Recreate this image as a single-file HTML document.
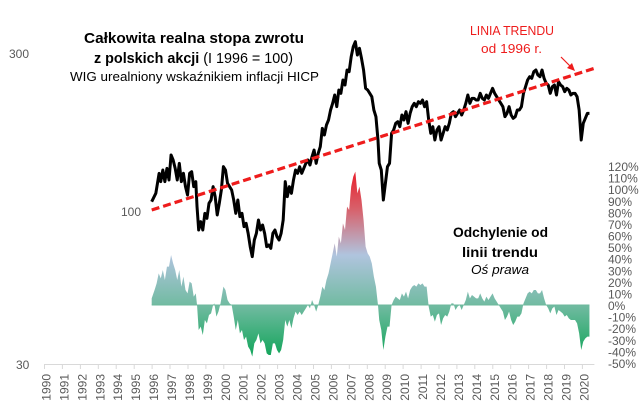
<!DOCTYPE html>
<html><head><meta charset="utf-8"><style>
html,body{margin:0;padding:0;background:#fff;}
svg{display:block;font-family:"Liberation Sans",sans-serif;}
</style></head><body>
<svg width="643" height="415" viewBox="0 0 643 415" xmlns="http://www.w3.org/2000/svg">
<defs>
<linearGradient id="g" gradientUnits="userSpaceOnUse" x1="0" y1="515" x2="0" y2="1070">
<stop offset="0" stop-color="#e8202c"/>
<stop offset="0.2" stop-color="#d8606a"/>
<stop offset="0.45" stop-color="#b0c4de"/>
<stop offset="0.72" stop-color="#72bba2"/>
<stop offset="1" stop-color="#12a55a"/>
</linearGradient>
</defs>
<g transform="scale(0.41220 0.33333)">
<polygon fill="url(#g)" points="368,915 368,895 375,870 380,850 385,820 390,835 395,810 400,840 405,800 410,800 415,765 420,790 425,810 430,840 435,810 440,860 445,830 450,870 455,880 460,845 465,850 470,890 475,880 478,915 482,990 487,980 492,1005 497,960 502,970 507,945 512,940 517,915 520,910 525,950 530,935 535,910 542,860 547,870 552,900 557,910 562,915 567,950 572,990 577,960 582,1000 587,990 592,1020 597,1010 602,1040 607,1050 612,1070 617,1030 622,1020 627,1000 632,1030 637,1020 642,1030 647,1060 652,1065 657,1065 662,1030 667,1030 672,1050 677,1060 682,1050 687,1020 692,960 697,980 702,960 707,985 712,955 717,935 722,945 727,935 732,945 737,935 742,925 747,915 752,925 757,900 762,915 767,935 772,915 777,890 782,860 787,870 792,840 797,820 802,790 807,760 812,730 817,770 822,710 827,730 832,670 837,690 842,620 847,630 852,560 857,530 862,515 867,580 872,560 877,600 882,660 887,740 892,760 897,770 902,790 907,830 912,860 917,915 920,960 925,990 930,1050 935,1010 940,980 945,980 950,915 955,900 960,890 965,895 970,900 975,880 980,890 985,875 990,895 995,870 1000,860 1005,855 1010,860 1015,850 1020,855 1025,850 1030,860 1035,860 1040,920 1045,950 1050,945 1055,965 1060,945 1065,940 1070,975 1075,955 1080,945 1085,950 1090,935 1095,910 1100,910 1105,930 1110,920 1115,915 1120,930 1125,915 1130,900 1135,875 1140,895 1145,885 1150,890 1155,895 1160,895 1165,880 1170,895 1175,905 1180,890 1185,900 1190,890 1195,880 1200,895 1205,905 1210,915 1215,925 1220,935 1225,960 1230,950 1235,935 1240,960 1245,975 1250,965 1255,950 1260,950 1265,940 1270,910 1275,895 1280,880 1285,875 1290,880 1295,870 1300,870 1305,880 1310,880 1315,870 1320,895 1325,915 1330,925 1335,940 1340,925 1345,920 1350,945 1355,930 1360,935 1365,940 1370,950 1375,945 1380,955 1385,960 1390,960 1395,960 1400,970 1405,1000 1410,1050 1415,1025 1420,1015 1425,1010 1430,1010 1430,915"/>
<line x1="368" y1="915" x2="1430" y2="915" stroke="#6db89c" stroke-width="1" vector-effect="non-scaling-stroke"/>
<polyline fill="none" stroke="#000" stroke-width="3" stroke-linejoin="round" vector-effect="non-scaling-stroke" points="368,605 378,580 382,550 386,520 390,545 395,510 400,545 405,505 410,540 415,465 420,480 425,505 430,540 435,490 440,545 445,520 450,560 455,585 460,520 465,515 470,560 475,545 478,620 482,690 487,665 492,690 497,640 502,655 507,610 512,600 517,560 522,590 527,645 532,610 537,570 542,500 547,510 552,550 557,560 562,570 567,600 572,640 577,600 582,650 587,640 592,680 597,670 602,700 607,740 612,770 617,720 622,700 627,660 632,690 637,675 642,700 647,740 652,735 657,745 662,700 667,690 672,710 677,720 682,700 687,660 692,545 697,590 702,560 707,580 712,540 717,510 722,520 727,500 732,520 737,505 742,490 747,480 752,495 757,470 762,450 767,490 772,460 777,440 782,385 787,405 792,375 797,360 802,330 807,310 812,285 817,320 822,270 827,280 832,240 837,255 842,210 847,215 852,170 857,140 862,125 867,165 872,145 877,175 882,210 887,265 892,270 897,280 902,290 907,330 912,350 917,420 920,490 925,510 930,600 935,550 940,500 945,490 950,400 955,390 960,370 965,365 970,380 975,345 980,360 985,335 990,370 995,340 1000,320 1005,310 1010,320 1015,305 1020,310 1025,300 1030,320 1035,305 1040,360 1045,400 1050,380 1055,420 1060,390 1065,380 1070,420 1075,400 1080,380 1085,390 1090,370 1095,340 1100,335 1105,350 1110,340 1115,330 1120,345 1125,330 1130,310 1135,285 1140,310 1145,295 1150,295 1155,300 1160,300 1165,280 1170,295 1175,300 1180,285 1185,295 1190,280 1195,265 1200,280 1205,290 1210,300 1215,310 1220,320 1225,350 1230,340 1235,320 1240,345 1245,355 1250,350 1255,330 1260,330 1265,320 1270,280 1275,260 1280,240 1285,230 1290,235 1295,215 1300,210 1305,225 1310,230 1315,210 1320,235 1325,250 1330,255 1335,280 1340,260 1345,255 1350,285 1355,245 1360,255 1365,260 1370,275 1375,265 1380,270 1385,285 1390,280 1395,280 1400,290 1405,330 1410,420 1415,370 1420,355 1425,340 1430,340"/>
</g>
<line x1="151.7" y1="210" x2="594.4" y2="68.3" stroke="#ee1c1c" stroke-width="3.2" stroke-dasharray="8,4"/>
<line x1="561" y1="57" x2="572" y2="68" stroke="#ee1c1c" stroke-width="1.2"/>
<polygon points="575,71 567,68 572,63" fill="#ee1c1c"/>
<line x1="44.5" y1="364.5" x2="594.4" y2="364.5" stroke="#d9d9d9" stroke-width="1"/>
<g id="ticks" stroke="#d9d9d9" stroke-width="1">
<path d="M44.5 364v5M62.4 364v5M80.4 364v5M98.3 364v5M116.2 364v5M134.2 364v5M152.1 364v5M170 364v5M188 364v5M205.9 364v5M223.8 364v5M241.7 364v5M259.7 364v5M277.6 364v5M295.5 364v5M313.5 364v5M331.4 364v5M349.3 364v5M367.3 364v5M385.2 364v5M403.1 364v5M421.1 364v5M439 364v5M456.9 364v5M474.8 364v5M492.8 364v5M510.7 364v5M528.6 364v5M546.6 364v5M564.5 364v5M582.4 364v5"/>
</g>
<g font-size="12" fill="#595959">
<text x="9" y="58">300</text>
<text x="121" y="216">100</text>
<text x="16" y="369">30</text>
</g>
<g font-size="12" fill="#595959" text-anchor="end">
<text transform="translate(50.5,374) rotate(-90)">1990</text>
<text transform="translate(68.4,374) rotate(-90)">1991</text>
<text transform="translate(86.4,374) rotate(-90)">1992</text>
<text transform="translate(104.3,374) rotate(-90)">1993</text>
<text transform="translate(122.2,374) rotate(-90)">1994</text>
<text transform="translate(140.2,374) rotate(-90)">1995</text>
<text transform="translate(158.1,374) rotate(-90)">1996</text>
<text transform="translate(176,374) rotate(-90)">1997</text>
<text transform="translate(194,374) rotate(-90)">1998</text>
<text transform="translate(211.9,374) rotate(-90)">1999</text>
<text transform="translate(229.8,374) rotate(-90)">2000</text>
<text transform="translate(247.7,374) rotate(-90)">2001</text>
<text transform="translate(265.7,374) rotate(-90)">2002</text>
<text transform="translate(283.6,374) rotate(-90)">2003</text>
<text transform="translate(301.5,374) rotate(-90)">2004</text>
<text transform="translate(319.5,374) rotate(-90)">2005</text>
<text transform="translate(337.4,374) rotate(-90)">2006</text>
<text transform="translate(355.3,374) rotate(-90)">2007</text>
<text transform="translate(373.3,374) rotate(-90)">2008</text>
<text transform="translate(391.2,374) rotate(-90)">2009</text>
<text transform="translate(409.1,374) rotate(-90)">2010</text>
<text transform="translate(427.1,374) rotate(-90)">2011</text>
<text transform="translate(445,374) rotate(-90)">2012</text>
<text transform="translate(462.9,374) rotate(-90)">2013</text>
<text transform="translate(480.8,374) rotate(-90)">2014</text>
<text transform="translate(498.8,374) rotate(-90)">2015</text>
<text transform="translate(516.7,374) rotate(-90)">2016</text>
<text transform="translate(534.6,374) rotate(-90)">2017</text>
<text transform="translate(552.6,374) rotate(-90)">2018</text>
<text transform="translate(570.5,374) rotate(-90)">2019</text>
<text transform="translate(588.4,374) rotate(-90)">2020</text>
</g>
<g font-size="12" fill="#595959">
<text x="608" y="171">120%</text>
<text x="608" y="182.6">110%</text>
<text x="608" y="194.2">100%</text>
<text x="608" y="205.8">90%</text>
<text x="608" y="217.4">80%</text>
<text x="608" y="228.9">70%</text>
<text x="608" y="240.5">60%</text>
<text x="608" y="252.1">50%</text>
<text x="608" y="263.7">40%</text>
<text x="608" y="275.3">30%</text>
<text x="608" y="286.9">20%</text>
<text x="608" y="298.5">10%</text>
<text x="608" y="310.1">0%</text>
<text x="608" y="321.6">-10%</text>
<text x="608" y="333.2">-20%</text>
<text x="608" y="344.8">-30%</text>
<text x="608" y="356.4">-40%</text>
<text x="608" y="368">-50%</text>
</g>
<text x="84" y="43" font-size="15" font-weight="bold" textLength="220" lengthAdjust="spacingAndGlyphs">Całkowita  realna stopa zwrotu</text>
<text x="94" y="63" font-size="15" textLength="199" lengthAdjust="spacingAndGlyphs"><tspan font-weight="bold">z polskich akcji</tspan> (I 1996 = 100)</text>
<text x="70" y="81" font-size="13" textLength="249" lengthAdjust="spacingAndGlyphs">WIG urealniony wskaźnikiem inflacji HICP</text>
<text x="470" y="35" font-size="13" fill="#ee1c1c" textLength="84" lengthAdjust="spacingAndGlyphs">LINIA TRENDU</text>
<text x="481" y="53" font-size="13" fill="#ee1c1c" textLength="61" lengthAdjust="spacingAndGlyphs">od 1996 r.</text>
<text x="453" y="237" font-size="14" font-weight="bold" textLength="95" lengthAdjust="spacingAndGlyphs">Odchylenie od</text>
<text x="462" y="257" font-size="14" font-weight="bold" textLength="76" lengthAdjust="spacingAndGlyphs">linii trendu</text>
<text x="471" y="274" font-size="13" font-style="italic" textLength="58" lengthAdjust="spacingAndGlyphs">Oś prawa</text>
</svg>
</body></html>
